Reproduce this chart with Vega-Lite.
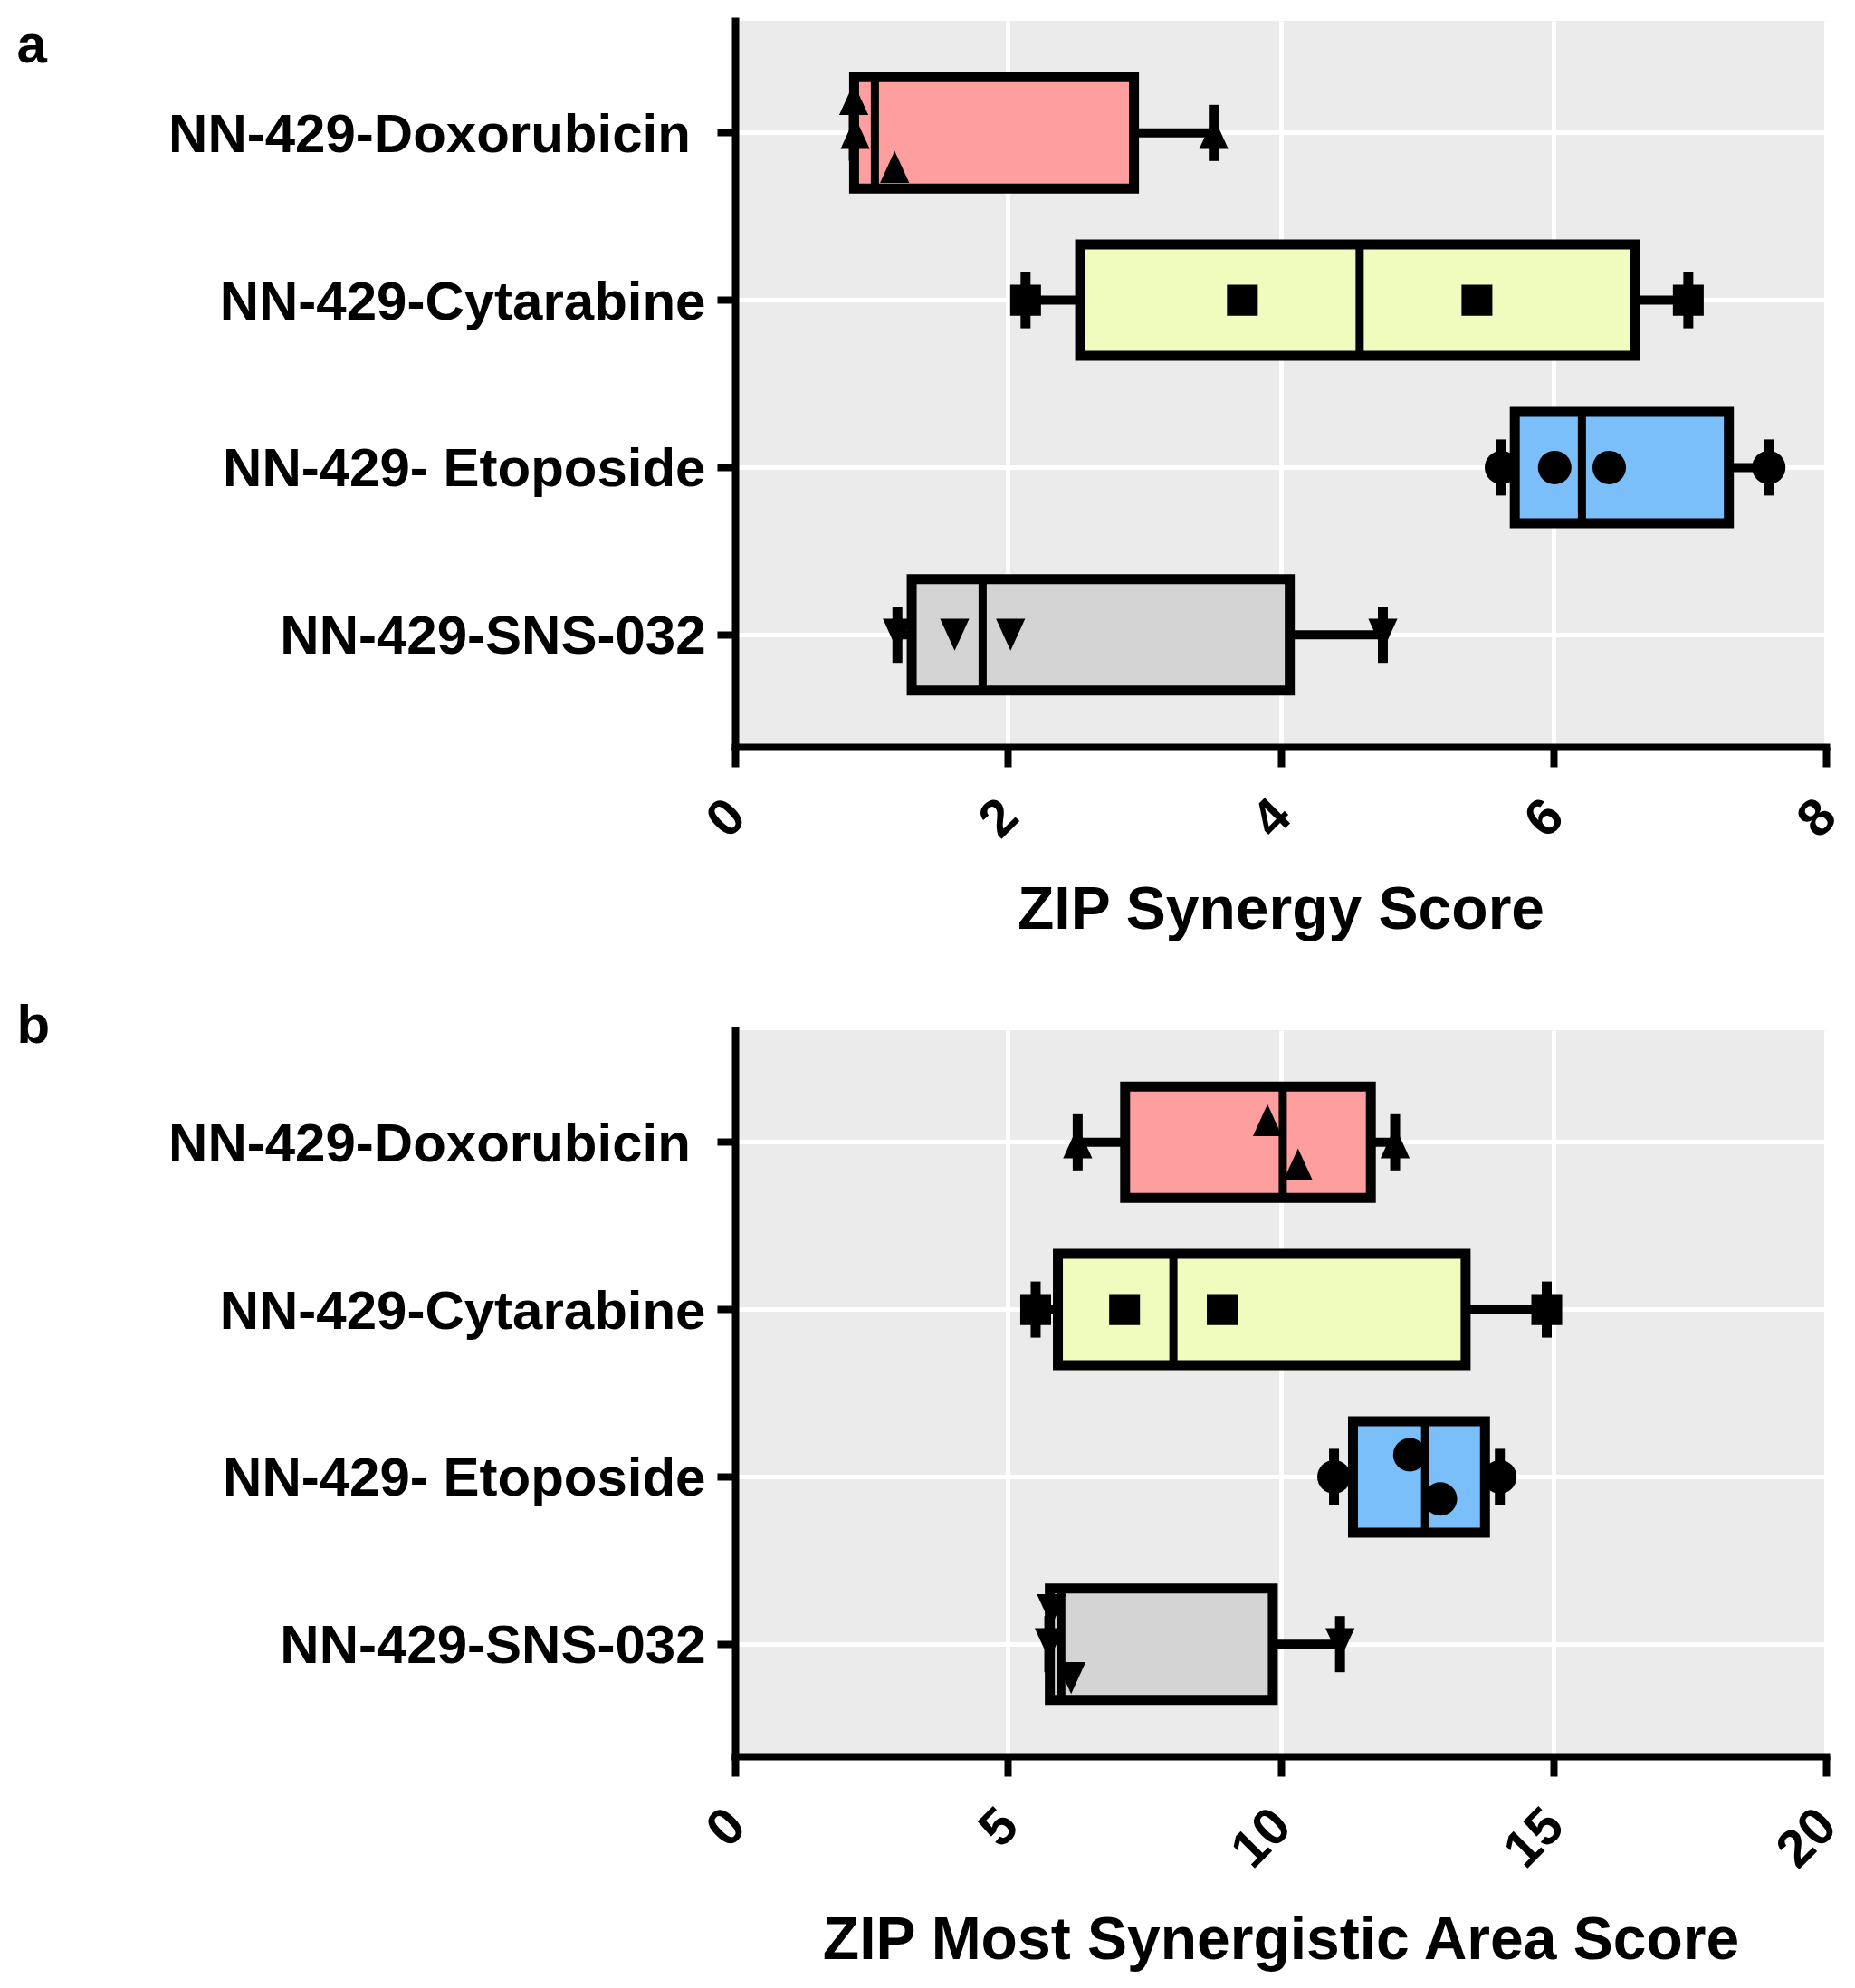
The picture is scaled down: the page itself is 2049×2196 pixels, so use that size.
{
  "$schema": "https://vega.github.io/schema/vega-lite/v6.json",
  "background": "white",
  "padding": {"left": 18, "top": 20, "right": 10, "bottom": 10},
  "bounds": "flush",
  "spacing": 313,
  "config": {
    "font": "Liberation Sans",
    "view": {"fill": "#EBEBEB", "stroke": null},
    "axis": {
      "domainColor": "black", "domainWidth": 8, "domainCap": "square",
      "tickColor": "black", "tickWidth": 8, "tickSize": 20,
      "gridColor": "white", "gridWidth": 5, "grid": true,
      "labelColor": "black", "labelFont": "Liberation Sans", "labelFontWeight": "bold", "labelLimit": 0,
      "titleColor": "black", "titleFont": "Liberation Sans", "titleFontWeight": "bold"
    },
    "axisX": {
      "labelFontSize": 58, "labelAngle": -45, "labelAlign": "right", "labelBaseline": "middle",
      "labelPadding": 46, "labelOffset": 2, "tickSize": 22, "titleFontSize": 66, "titlePadding": 37,
      "labelFlush": false, "labelOverlap": false, "format": "d"
    },
    "axisY": {
      "labelFontSize": 60, "labelPadding": 13, "labelOffset": 3, "tickBand": "center",
      "titleFontSize": 60, "titleAngle": 0, "titleAlign": "left", "titleBaseline": "top",
      "titleX": -794
    }
  },
  "datasets": {
    "summA": [
      {"drug": "NN-429-Doxorubicin\u00a0\u200b", "min": 0.87, "q1": 0.8725, "median": 1.025, "q3": 2.925, "max": 3.51},
      {"drug": "NN-429-Cytarabine", "min": 2.13, "q1": 2.53, "median": 4.58, "q3": 6.6025, "max": 6.99},
      {"drug": "NN-429- Etoposide", "min": 5.62, "q1": 5.7175, "median": 6.21, "q3": 7.2875, "max": 7.58},
      {"drug": "NN-429-SNS-032", "min": 1.19, "q1": 1.295, "median": 1.815, "q3": 4.0675, "max": 4.75}
    ],
    "ptsA": [
      {"drug": "NN-429-Doxorubicin\u00a0\u200b", "value": 0.87, "lane": -1},
      {"drug": "NN-429-Doxorubicin\u00a0\u200b", "value": 0.88, "lane": 0},
      {"drug": "NN-429-Doxorubicin\u00a0\u200b", "value": 1.17, "lane": 1},
      {"drug": "NN-429-Doxorubicin\u00a0\u200b", "value": 3.51, "lane": 0},
      {"drug": "NN-429-Cytarabine", "value": 2.13, "lane": 0},
      {"drug": "NN-429-Cytarabine", "value": 3.72, "lane": 0},
      {"drug": "NN-429-Cytarabine", "value": 5.44, "lane": 0},
      {"drug": "NN-429-Cytarabine", "value": 6.99, "lane": 0},
      {"drug": "NN-429- Etoposide", "value": 5.62, "lane": 0},
      {"drug": "NN-429- Etoposide", "value": 6.01, "lane": 0},
      {"drug": "NN-429- Etoposide", "value": 6.41, "lane": 0},
      {"drug": "NN-429- Etoposide", "value": 7.58, "lane": 0},
      {"drug": "NN-429-SNS-032", "value": 1.19, "lane": 0},
      {"drug": "NN-429-SNS-032", "value": 1.61, "lane": 0},
      {"drug": "NN-429-SNS-032", "value": 2.02, "lane": 0},
      {"drug": "NN-429-SNS-032", "value": 4.75, "lane": 0}
    ],
    "summB": [
      {"drug": "NN-429-Doxorubicin\u00a0\u200b", "min": 6.28, "q1": 7.15, "median": 10.04, "q3": 11.655, "max": 12.1},
      {"drug": "NN-429-Cytarabine", "min": 5.51, "q1": 5.9175, "median": 8.035, "q3": 13.3925, "max": 14.88},
      {"drug": "NN-429- Etoposide", "min": 10.98, "q1": 11.3275, "median": 12.65, "q3": 13.7475, "max": 14.02},
      {"drug": "NN-429-SNS-032", "min": 5.76, "q1": 5.77, "median": 5.98, "q3": 9.8575, "max": 11.09}
    ],
    "ptsB": [
      {"drug": "NN-429-Doxorubicin\u00a0\u200b", "value": 6.28, "lane": 0},
      {"drug": "NN-429-Doxorubicin\u00a0\u200b", "value": 9.76, "lane": -0.65},
      {"drug": "NN-429-Doxorubicin\u00a0\u200b", "value": 10.32, "lane": 0.65},
      {"drug": "NN-429-Doxorubicin\u00a0\u200b", "value": 12.1, "lane": 0},
      {"drug": "NN-429-Cytarabine", "value": 5.51, "lane": 0},
      {"drug": "NN-429-Cytarabine", "value": 7.14, "lane": 0},
      {"drug": "NN-429-Cytarabine", "value": 8.93, "lane": 0},
      {"drug": "NN-429-Cytarabine", "value": 14.88, "lane": 0},
      {"drug": "NN-429- Etoposide", "value": 10.98, "lane": 0},
      {"drug": "NN-429- Etoposide", "value": 12.37, "lane": -0.65},
      {"drug": "NN-429- Etoposide", "value": 12.93, "lane": 0.65},
      {"drug": "NN-429- Etoposide", "value": 14.02, "lane": 0},
      {"drug": "NN-429-SNS-032", "value": 5.76, "lane": 0},
      {"drug": "NN-429-SNS-032", "value": 5.8, "lane": -1},
      {"drug": "NN-429-SNS-032", "value": 6.16, "lane": 1},
      {"drug": "NN-429-SNS-032", "value": 11.09, "lane": 0}
    ]
  },
  "vconcat": [
    {
      "width": 1205,
      "height": 802,
      "encoding": {
        "y": {
          "field": "drug", "type": "nominal", "title": "a",
          "scale": {"domain": ["NN-429-Doxorubicin\u00a0\u200b", "NN-429-Cytarabine", "NN-429- Etoposide", "NN-429-SNS-032"], "paddingInner": 0, "paddingOuter": 0.17},
          "axis": {"titleY": -2}
        }
      },
      "layer": [
        {
          "data": {"name": "summA"},
          "mark": {"type": "rule", "stroke": "black", "strokeWidth": 10},
          "encoding": {
            "x": {"field": "min", "type": "quantitative", "title": "ZIP Synergy Score", "scale": {"domain": [0, 8], "nice": false}, "axis": {"values": [0, 2, 4, 6, 8]}},
            "x2": {"field": "max"}
          }
        },
        {
          "data": {"name": "summA"},
          "mark": {"type": "tick", "color": "black", "size": 62, "thickness": 11, "opacity": 1},
          "encoding": {"x": {"field": "min", "type": "quantitative", "title": "ZIP Synergy Score"}}
        },
        {
          "data": {"name": "summA"},
          "mark": {"type": "tick", "color": "black", "size": 62, "thickness": 11, "opacity": 1},
          "encoding": {"x": {"field": "max", "type": "quantitative", "title": "ZIP Synergy Score"}}
        },
        {
          "data": {"name": "summA"},
          "mark": {"type": "bar", "size": 123, "stroke": "black", "strokeWidth": 11},
          "encoding": {
            "x": {"field": "q1", "type": "quantitative", "title": "ZIP Synergy Score"},
            "x2": {"field": "q3"},
            "fill": {"field": "drug", "type": "nominal", "legend": null,
              "scale": {"domain": ["NN-429-Doxorubicin\u00a0\u200b", "NN-429-Cytarabine", "NN-429- Etoposide", "NN-429-SNS-032"], "range": ["#FF9E9E", "#F0FCBE", "#7ABEFA", "#D4D4D4"]}}
          }
        },
        {
          "data": {"name": "summA"},
          "mark": {"type": "tick", "color": "black", "size": 123, "thickness": 9, "opacity": 1},
          "encoding": {"x": {"field": "median", "type": "quantitative", "title": "ZIP Synergy Score"}}
        },
        {
          "data": {"name": "ptsA"},
          "mark": {"type": "point", "filled": true, "color": "black", "opacity": 1, "size": 1369, "strokeWidth": 0},
          "encoding": {
            "x": {"field": "value", "type": "quantitative", "title": "ZIP Synergy Score"},
            "yOffset": {"field": "lane", "type": "quantitative", "scale": {"domain": [-1, 1], "range": [54.9, 129.9]}},
            "shape": {"field": "drug", "type": "nominal", "legend": null,
              "scale": {"domain": ["NN-429-Doxorubicin\u00a0\u200b", "NN-429-Cytarabine", "NN-429- Etoposide", "NN-429-SNS-032"],
                "range": ["M0,-0.95L0.87,0.95L-0.87,0.95Z", "M-0.92,-0.92L0.92,-0.92L0.92,0.92L-0.92,0.92Z", "circle", "M0,0.95L0.87,-0.95L-0.87,-0.95Z"]}}
          }
        }
      ]
    },
    {
      "width": 1205,
      "height": 802,
      "encoding": {
        "y": {
          "field": "drug", "type": "nominal", "title": "b",
          "scale": {"domain": ["NN-429-Doxorubicin\u00a0\u200b", "NN-429-Cytarabine", "NN-429- Etoposide", "NN-429-SNS-032"], "paddingInner": 0, "paddingOuter": 0.17},
          "axis": {"titleY": -34}
        }
      },
      "layer": [
        {
          "data": {"name": "summB"},
          "mark": {"type": "rule", "stroke": "black", "strokeWidth": 10},
          "encoding": {
            "x": {"field": "min", "type": "quantitative", "title": "ZIP Most Synergistic Area Score", "scale": {"domain": [0, 20], "nice": false}, "axis": {"values": [0, 5, 10, 15, 20]}},
            "x2": {"field": "max"}
          }
        },
        {
          "data": {"name": "summB"},
          "mark": {"type": "tick", "color": "black", "size": 62, "thickness": 11, "opacity": 1},
          "encoding": {"x": {"field": "min", "type": "quantitative", "title": "ZIP Most Synergistic Area Score"}}
        },
        {
          "data": {"name": "summB"},
          "mark": {"type": "tick", "color": "black", "size": 62, "thickness": 11, "opacity": 1},
          "encoding": {"x": {"field": "max", "type": "quantitative", "title": "ZIP Most Synergistic Area Score"}}
        },
        {
          "data": {"name": "summB"},
          "mark": {"type": "bar", "size": 123, "stroke": "black", "strokeWidth": 11},
          "encoding": {
            "x": {"field": "q1", "type": "quantitative", "title": "ZIP Most Synergistic Area Score"},
            "x2": {"field": "q3"},
            "fill": {"field": "drug", "type": "nominal", "legend": null,
              "scale": {"domain": ["NN-429-Doxorubicin\u00a0\u200b", "NN-429-Cytarabine", "NN-429- Etoposide", "NN-429-SNS-032"], "range": ["#FF9E9E", "#F0FCBE", "#7ABEFA", "#D4D4D4"]}}
          }
        },
        {
          "data": {"name": "summB"},
          "mark": {"type": "tick", "color": "black", "size": 123, "thickness": 9, "opacity": 1},
          "encoding": {"x": {"field": "median", "type": "quantitative", "title": "ZIP Most Synergistic Area Score"}}
        },
        {
          "data": {"name": "ptsB"},
          "mark": {"type": "point", "filled": true, "color": "black", "opacity": 1, "size": 1369, "strokeWidth": 0},
          "encoding": {
            "x": {"field": "value", "type": "quantitative", "title": "ZIP Most Synergistic Area Score"},
            "yOffset": {"field": "lane", "type": "quantitative", "scale": {"domain": [-1, 1], "range": [54.9, 129.9]}},
            "shape": {"field": "drug", "type": "nominal", "legend": null,
              "scale": {"domain": ["NN-429-Doxorubicin\u00a0\u200b", "NN-429-Cytarabine", "NN-429- Etoposide", "NN-429-SNS-032"],
                "range": ["M0,-0.95L0.87,0.95L-0.87,0.95Z", "M-0.92,-0.92L0.92,-0.92L0.92,0.92L-0.92,0.92Z", "circle", "M0,0.95L0.87,-0.95L-0.87,-0.95Z"]}}
          }
        }
      ]
    }
  ]
}
